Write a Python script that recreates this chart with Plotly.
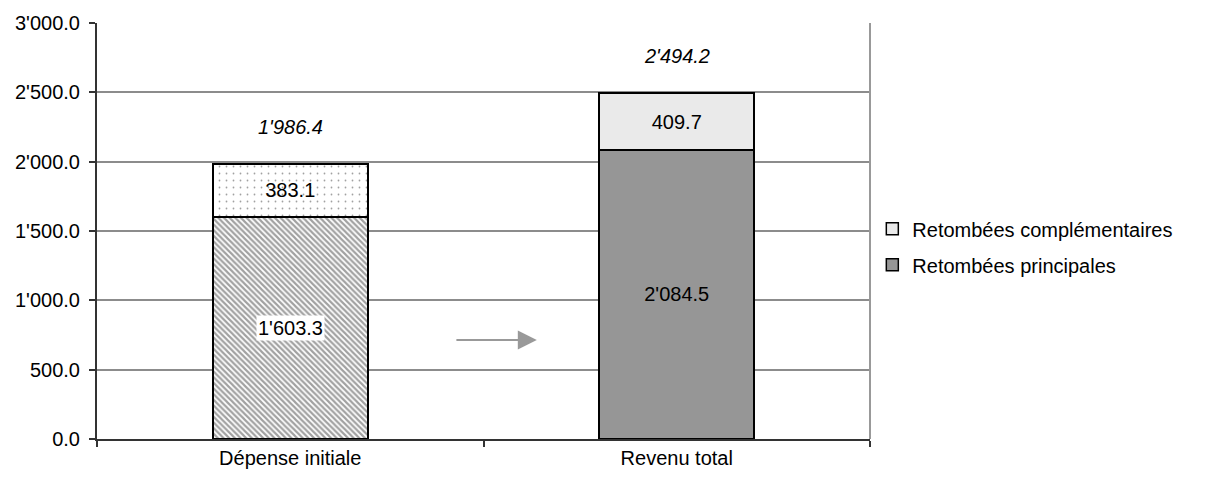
import plotly.graph_objects as go

# Data
categories = ["Dépense initiale", "Revenu total"]
principales = [1603.3, 2084.5]
complementaires = [383.1, 409.7]
totals = [1986.4, 2494.2]
y_ticks = [0, 500, 1000, 1500, 2000, 2500, 3000]

FONT = "Liberation Sans, Arial, sans-serif"
FS = 20


def fmt(v):
    return f"{v:,.1f}".replace(",", "'")


fig = go.Figure()

# Main contribution (bottom of each stack)
fig.add_trace(go.Bar(
    x=categories, y=principales, name="Retombées principales",
    width=0.4, showlegend=False,
    marker=dict(
        color=["white", "#969696"],
        line=dict(color="black", width=2),
        pattern=dict(shape=["\\", ""], fgcolor="#262626", size=4, solidity=0.55),
    ),
    texttemplate=["", "%{y:,.1f}"], textposition="inside",
    insidetextanchor="middle", textangle=0,
    textfont=dict(family=FONT, size=FS, color="black"),
    hoverinfo="skip",
))

# Complementary contribution (top of each stack)
fig.add_trace(go.Bar(
    x=categories, y=complementaires, name="Retombées complémentaires",
    width=0.4, showlegend=False,
    marker=dict(
        color=["white", "#eaeaea"],
        line=dict(color="black", width=2),
        pattern=dict(shape=[".", ""], fgcolor="#8a8a8a", size=7, solidity=0.05),
    ),
    texttemplate="%{y:,.1f}", textposition="inside",
    insidetextanchor="middle", textangle=0,
    textfont=dict(family=FONT, size=FS, color="black"),
    hoverinfo="skip",
))

# Legend entries
fig.add_trace(go.Bar(
    x=[categories[0]], y=[None], name="Retombées complémentaires",
    marker=dict(color="#eaeaea", line=dict(color="black", width=1.5)),
    legendgroup="a",
))
fig.add_trace(go.Bar(
    x=[categories[0]], y=[None], name="Retombées principales",
    marker=dict(color="#969696", line=dict(color="black", width=1.5)),
    legendgroup="b",
))

annotations = []
# Label of the hatched segment, on a white box
annotations.append(dict(
    x=categories[0], y=principales[0] / 2, xref="x", yref="y",
    text=fmt(principales[0]), showarrow=False, bgcolor="white",
    font=dict(family=FONT, size=FS, color="black"), borderpad=1,
))
# Stack totals in italics
for c, t in zip(categories, totals):
    annotations.append(dict(
        x=c, y=t, xref="x", yref="y", yshift=37,
        text=f"<i>{fmt(t)}</i>", showarrow=False,
        font=dict(family=FONT, size=FS, color="black"),
    ))
# Grey arrow between the two stacks
annotations.append(dict(
    x=0.638, y=714, xref="x", yref="y",
    ax=0.426, ay=714, axref="x", ayref="y",
    text="", showarrow=True, arrowhead=2, arrowsize=1.9,
    arrowwidth=2, arrowcolor="#999999",
))

fig.update_layout(
    barmode="stack",
    width=1205, height=484,
    margin=dict(l=97, r=335, t=19, b=45),
    paper_bgcolor="white", plot_bgcolor="white",
    separators=".'",
    font=dict(family=FONT, size=FS, color="black"),
    annotations=annotations,
    legend=dict(
        x=1.003, y=0.462, xanchor="left", yanchor="middle",
        traceorder="grouped", tracegroupgap=7,
        font=dict(family=FONT, size=FS, color="black"),
        bgcolor="rgba(0,0,0,0)",
    ),
    shapes=[dict(type="line", xref="paper", yref="paper",
                 x0=1, x1=1, y0=0, y1=1,
                 line=dict(color="#999999", width=2))],
)

fig.update_xaxes(
    type="category", categoryorder="array", categoryarray=categories,
    range=[-0.5, 1.5], tickson="boundaries",
    showline=True, linecolor="#333333", linewidth=2,
    ticks="outside", ticklen=6, tickcolor="#333333", tickwidth=1.5,
    showgrid=False, tickfont=dict(family=FONT, size=FS, color="black"),
)
fig.update_yaxes(
    range=[0, 3000], tickvals=y_ticks, tickformat=",.1f",
    showline=True, linecolor="#333333", linewidth=2,
    ticks="outside", ticklen=6, tickcolor="#333333", tickwidth=1.5,
    ticklabelstandoff=5,
    showgrid=True, gridcolor="#8c8c8c", gridwidth=1.5,
    zeroline=False, tickfont=dict(family=FONT, size=FS, color="black"),
)

fig.write_html("out.html")
